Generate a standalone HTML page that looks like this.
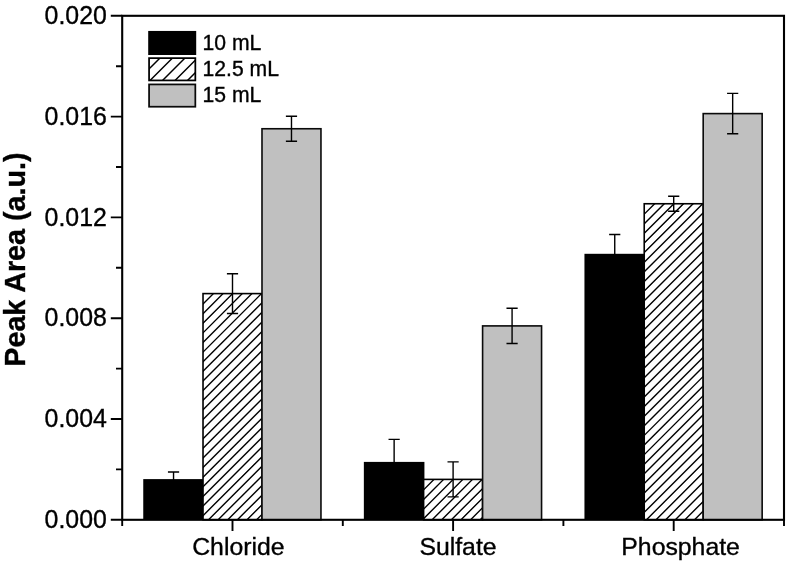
<!DOCTYPE html>
<html lang="en"><head><meta charset="utf-8"><title>Peak Area bar chart</title>
<style>html,body{margin:0;padding:0;background:#fff;}body{width:786px;height:563px;overflow:hidden;}svg{display:block;}text{font-family:"Liberation Sans",Arial,sans-serif;fill:#000;stroke:#000;stroke-width:0.35px;}</style>
</head><body>
<svg width="786" height="563" viewBox="0 0 786 563">
<rect x="0" y="0" width="786" height="563" fill="#fff"/>
<defs><clipPath id="c0"><rect x="203.02" y="293.60" width="58.97" height="226.20"/></clipPath><clipPath id="c1"><rect x="423.62" y="479.40" width="58.97" height="40.40"/></clipPath><clipPath id="c2"><rect x="644.22" y="203.75" width="58.97" height="316.05"/></clipPath><clipPath id="lc"><rect x="149.075" y="58.125" width="46.25" height="22.3"/></clipPath></defs>
<rect x="143.25" y="479.10" width="60.57" height="40.70" fill="#000"/>
<rect x="203.02" y="293.60" width="58.97" height="226.20" fill="#fff"/>
<path d="M202.22 304.80L214.22 292.80M202.22 314.42L223.84 292.80M202.22 324.04L233.46 292.80M202.22 333.66L243.08 292.80M202.22 343.28L252.70 292.80M202.22 352.90L262.32 292.80M202.22 362.52L271.94 292.80M202.22 372.14L281.56 292.80M202.22 381.76L291.18 292.80M202.22 391.38L300.80 292.80M202.22 401.00L310.42 292.80M202.22 410.62L320.04 292.80M202.22 420.24L329.66 292.80M202.22 429.86L339.28 292.80M202.22 439.48L348.90 292.80M202.22 449.10L358.52 292.80M202.22 458.72L368.14 292.80M202.22 468.34L377.76 292.80M202.22 477.96L387.38 292.80M202.22 487.58L397.00 292.80M202.22 497.20L406.62 292.80M202.22 506.82L416.24 292.80M202.22 516.44L425.86 292.80M202.22 526.06L435.48 292.80M202.22 535.68L445.10 292.80M202.22 545.30L454.72 292.80M202.22 554.92L464.34 292.80M202.22 564.54L473.96 292.80M202.22 574.16L483.58 292.80M202.22 583.78L493.20 292.80" stroke="#000" stroke-width="1.4" fill="none" clip-path="url(#c0)"/>
<rect x="203.02" y="293.60" width="58.97" height="226.20" fill="none" stroke="#000" stroke-width="1.6"/>
<rect x="261.99" y="128.75" width="58.97" height="391.05" fill="#c0c0c0" stroke="#0a0a0a" stroke-width="1.6"/>
<rect x="363.85" y="461.90" width="60.57" height="57.90" fill="#000"/>
<rect x="423.62" y="479.40" width="58.97" height="40.40" fill="#fff"/>
<path d="M422.82 490.60L434.82 478.60M422.82 500.22L444.44 478.60M422.82 509.84L454.06 478.60M422.82 519.46L463.68 478.60M422.82 529.08L473.30 478.60M422.82 538.70L482.92 478.60M422.82 548.32L492.54 478.60M422.82 557.94L502.16 478.60M422.82 567.56L511.78 478.60M422.82 577.18L521.40 478.60M422.82 586.80L531.02 478.60" stroke="#000" stroke-width="1.4" fill="none" clip-path="url(#c1)"/>
<rect x="423.62" y="479.40" width="58.97" height="40.40" fill="none" stroke="#000" stroke-width="1.6"/>
<rect x="482.59" y="325.90" width="58.97" height="193.90" fill="#c0c0c0" stroke="#0a0a0a" stroke-width="1.6"/>
<rect x="584.45" y="253.80" width="60.57" height="266.00" fill="#000"/>
<rect x="644.22" y="203.75" width="58.97" height="316.05" fill="#fff"/>
<path d="M643.42 214.95L655.42 202.95M643.42 224.57L665.04 202.95M643.42 234.19L674.66 202.95M643.42 243.81L684.28 202.95M643.42 253.43L693.90 202.95M643.42 263.05L703.52 202.95M643.42 272.67L713.14 202.95M643.42 282.29L722.76 202.95M643.42 291.91L732.38 202.95M643.42 301.53L742.00 202.95M643.42 311.15L751.62 202.95M643.42 320.77L761.24 202.95M643.42 330.39L770.86 202.95M643.42 340.01L780.48 202.95M643.42 349.63L790.10 202.95M643.42 359.25L799.72 202.95M643.42 368.87L809.34 202.95M643.42 378.49L818.96 202.95M643.42 388.11L828.58 202.95M643.42 397.73L838.20 202.95M643.42 407.35L847.82 202.95M643.42 416.97L857.44 202.95M643.42 426.59L867.06 202.95M643.42 436.21L876.68 202.95M643.42 445.83L886.30 202.95M643.42 455.45L895.92 202.95M643.42 465.07L905.54 202.95M643.42 474.69L915.16 202.95M643.42 484.31L924.78 202.95M643.42 493.93L934.40 202.95M643.42 503.55L944.02 202.95M643.42 513.17L953.64 202.95M643.42 522.79L963.26 202.95M643.42 532.41L972.88 202.95M643.42 542.03L982.50 202.95M643.42 551.65L992.12 202.95M643.42 561.27L1001.74 202.95M643.42 570.89L1011.36 202.95M643.42 580.51L1020.98 202.95" stroke="#000" stroke-width="1.4" fill="none" clip-path="url(#c2)"/>
<rect x="644.22" y="203.75" width="58.97" height="316.05" fill="none" stroke="#000" stroke-width="1.6"/>
<rect x="703.19" y="113.60" width="58.97" height="406.20" fill="#c0c0c0" stroke="#0a0a0a" stroke-width="1.6"/>
<path d="M173.54 472.00V479.90M167.94 472.00H179.14" stroke="#000" stroke-width="1.4" fill="none"/>
<path d="M232.50 273.70V313.50M226.91 273.70H238.10M226.91 313.50H238.10" stroke="#000" stroke-width="1.4" fill="none"/>
<path d="M291.48 116.30V141.20M285.88 116.30H297.08M285.88 141.20H297.08" stroke="#000" stroke-width="1.4" fill="none"/>
<path d="M394.13 439.40V462.70M388.53 439.40H399.74" stroke="#000" stroke-width="1.4" fill="none"/>
<path d="M453.10 461.90V496.90M447.50 461.90H458.70M447.50 496.90H458.70" stroke="#000" stroke-width="1.4" fill="none"/>
<path d="M512.08 308.30V343.50M506.48 308.30H517.68M506.48 343.50H517.68" stroke="#000" stroke-width="1.4" fill="none"/>
<path d="M614.74 234.50V254.60M609.13 234.50H620.34" stroke="#000" stroke-width="1.4" fill="none"/>
<path d="M673.71 196.25V211.25M668.11 196.25H679.31M668.11 211.25H679.31" stroke="#000" stroke-width="1.4" fill="none"/>
<path d="M732.67 93.40V133.80M727.07 93.40H738.27M727.07 133.80H738.27" stroke="#000" stroke-width="1.4" fill="none"/>
<rect x="148.2" y="30.95" width="48.0" height="24.05" fill="#000"/>
<path d="M146.20 59.30L155.50 50M146.20 71.80L168.00 50M146.20 84.30L180.50 50M146.20 96.80L193.00 50M146.20 109.30L205.50 50M146.20 121.80L218.00 50M146.20 134.30L230.50 50M146.20 146.80L243.00 50" stroke="#000" stroke-width="1.45" fill="none" clip-path="url(#lc)"/>
<rect x="149.075" y="58.125" width="46.25" height="22.3" fill="none" stroke="#000" stroke-width="1.75"/>
<rect x="149.075" y="84.425" width="46.25" height="22.3" fill="#c0c0c0" stroke="#0a0a0a" stroke-width="1.75"/>
<text transform="translate(202.6 49.9) scale(1 1.04)" font-size="21.15">10 mL</text>
<text transform="translate(202.6 76.1) scale(1 1.04)" font-size="21.15">12.5 mL</text>
<text transform="translate(202.6 102.4) scale(1 1.04)" font-size="21.15">15 mL</text>
<rect x="122.2" y="15.8" width="661.8" height="503.99999999999994" fill="none" stroke="#000" stroke-width="2.1"/>
<path d="M110.8 15.80H122.2M116 66.20H122.2M110.8 116.60H122.2M116 167.00H122.2M110.8 217.40H122.2M116 267.80H122.2M110.8 318.20H122.2M116 368.60H122.2M110.8 419.00H122.2M116 469.40H122.2M110.8 519.80H122.2" stroke="#000" stroke-width="1.9" fill="none"/>
<path d="M232.50 519.8V531M453.10 519.8V531M673.70 519.8V531M122.20 519.8V526M342.80 519.8V526M563.40 519.8V526M784.00 519.8V526" stroke="#000" stroke-width="1.9" fill="none"/>
<text transform="translate(106.9 23.90) scale(1 1.045)" font-size="24.9" text-anchor="end">0.020</text>
<text transform="translate(106.9 124.70) scale(1 1.045)" font-size="24.9" text-anchor="end">0.016</text>
<text transform="translate(106.9 225.50) scale(1 1.045)" font-size="24.9" text-anchor="end">0.012</text>
<text transform="translate(106.9 326.30) scale(1 1.045)" font-size="24.9" text-anchor="end">0.008</text>
<text transform="translate(106.9 427.10) scale(1 1.045)" font-size="24.9" text-anchor="end">0.004</text>
<text transform="translate(106.9 527.90) scale(1 1.045)" font-size="24.9" text-anchor="end">0.000</text>
<text x="192.2" y="555.1" font-size="24.8">Chloride</text>
<text x="419.4" y="555.1" font-size="24.8">Sulfate</text>
<text x="621.3" y="555.1" font-size="24.8">Phosphate</text>
<text transform="translate(25.1 366.7) rotate(-90)" font-size="28.7" font-weight="bold">Peak Area (a.u.)</text>
</svg>
</body></html>
